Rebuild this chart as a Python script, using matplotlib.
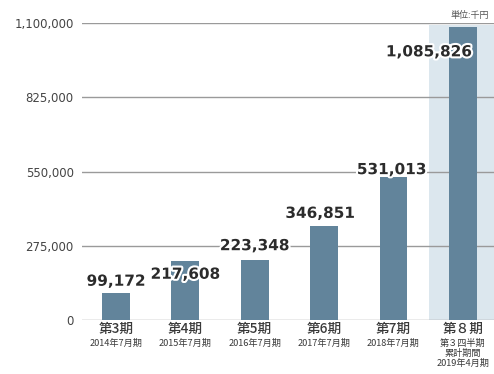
import matplotlib
matplotlib.use("Agg")
import matplotlib.pyplot as plt
import matplotlib.patheffects as pe
from matplotlib.transforms import blended_transform_factory

plt.rcParams['font.family'] = ['Noto Sans CJK JP', 'DejaVu Sans']

periods = ["第3期", "第4期", "第5期", "第6期", "第7期", "第８期"]
subs = [["2014年7月期"], ["2015年7月期"], ["2016年7月期"], ["2017年7月期"], ["2018年7月期"],
        ["第３四半期", "累計期間", "2019年4月期"]]
values = [99172, 217608, 223348, 346851, 531013, 1085826]
value_labels = ["99,172", "217,608", "223,348", "346,851", "531,013", "1,085,826"]
yticks = [0, 275000, 550000, 825000, 1100000]
ytick_labels = ["0", "275,000", "550,000", "825,000", "1,100,000"]
unit_text = "単位:千円"

# label offsets in pixels relative to bar top
label_offsets = [(0, 12), (0, -13), (0, 14), (-4, 13), (-2, 7), (-34, -25)]

bar_color = "#62849b"
hl_color = "#dce7ee"
grid_color = "#9a9a9a"
text_color = "#2b2b2b"

fig = plt.figure(figsize=(4.94, 3.74), dpi=100)
ax = fig.add_axes([82/494, 1 - 320/374, 1 - 82/494, (320 - 23)/374])

n = len(values)
x = list(range(n))
ax.set_xlim(-0.49, 5.45)
ax.set_ylim(0, 1100000)

# highlight for last period
ax.axvspan(4.52, 5.45, ymin=0, ymax=(1100000 - 8000) / 1100000, color=hl_color, zorder=0, lw=0)

for t in yticks:
    ax.axhline(t, color=grid_color, lw=1.0, zorder=1)

ax.bar(x, values, width=0.40, color=bar_color, zorder=2)

for i, (v, lab, off) in enumerate(zip(values, value_labels, label_offsets)):
    ax.annotate(lab, xy=(i, v), xytext=off, textcoords='offset pixels',
                ha='center', va='center', fontsize=11, fontweight='bold',
                color=text_color, zorder=5, family='DejaVu Sans',
                path_effects=[pe.withStroke(linewidth=3, foreground='white')])

ax.set_yticks(yticks)
ax.set_yticklabels(ytick_labels, fontsize=8.5, color="#444444", family='DejaVu Sans')
ax.tick_params(axis='y', length=0, pad=6)
ax.set_xticks([])
for s in ax.spines.values():
    s.set_visible(False)

trans = blended_transform_factory(ax.transData, ax.transAxes)
for i, (p, s) in enumerate(zip(periods, subs)):
    ax.annotate(p, xy=(i, 0), xycoords=trans, xytext=(0, -8.5), textcoords='offset pixels',
                ha='center', va='center', fontsize=9.8, fontweight='medium', color="#3a3a3a")
    for j, line in enumerate(s):
        ax.annotate(line, xy=(i, 0), xycoords=trans, xytext=(0, -23 - 10 * j),
                    textcoords='offset pixels', ha='center', va='center',
                    fontsize=6.6, color="#3a3a3a")

fig.text(470/494, 1 - 15/374, unit_text, ha='center', va='center', fontsize=6.5, color="#555555")

fig.savefig("out.png", dpi=100)
